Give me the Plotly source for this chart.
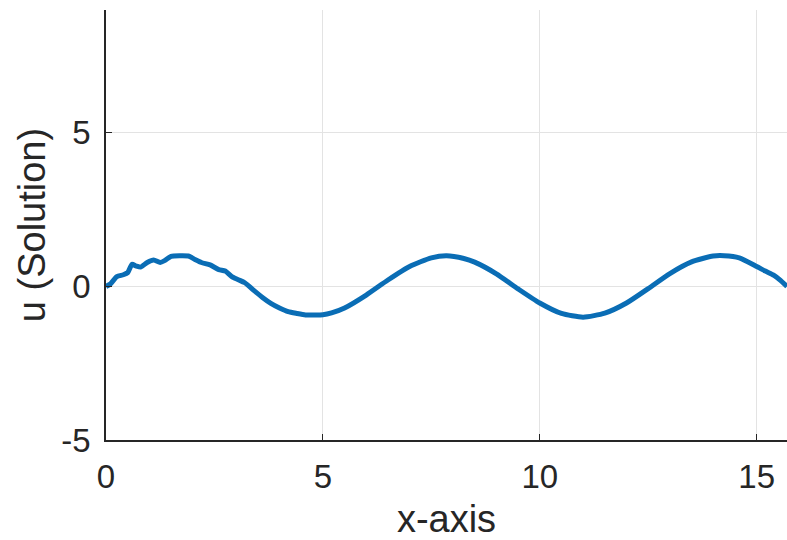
import plotly.graph_objects as go

# Sampled solution u(x) along the x-axis
x_vals = [0.0, 0.1, 0.25, 0.4, 0.5, 0.6, 0.7, 0.8, 0.95, 1.1, 1.25, 1.35, 1.5, 1.7,
          1.9, 2.05, 2.2, 2.4, 2.6, 2.75, 2.9, 3.05, 3.2, 3.4, 3.6, 3.8, 4.0, 4.2,
          4.4, 4.6, 4.8, 5.0, 5.2, 5.5, 6.0, 6.5, 7.0, 7.5, 7.85, 8.25, 8.5, 9.0,
          9.5, 10.0, 10.5, 11.0, 11.5, 12.0, 12.5, 13.0, 13.5, 14.0, 14.25, 14.6,
          15.0, 15.2, 15.4, 15.55, 15.7]
u_vals = [0.0, 0.08, 0.32, 0.38, 0.45, 0.72, 0.66, 0.63, 0.78, 0.86, 0.78, 0.84, 0.98, 1.0,
          0.99, 0.88, 0.78, 0.70, 0.55, 0.50, 0.32, 0.22, 0.12, -0.12, -0.35, -0.55, -0.70, -0.82,
          -0.88, -0.93, -0.93, -0.92, -0.86, -0.70, -0.28, 0.21, 0.65, 0.93, 1.0, 0.91, 0.79, 0.41,
          -0.08, -0.54, -0.88, -1.0, -0.87, -0.54, -0.07, 0.42, 0.80, 0.99, 1.0, 0.93,
          0.65, 0.50, 0.36, 0.20, 0.0]

x_ticks = [0, 5, 10, 15]
x_tick_text = ["0", "5", "10", "15"]
y_ticks = [-5, 0, 5]
y_tick_text = ["-5", "0", "5"]

font_family = "Liberation Sans, Arial, sans-serif"
axis_color = "#262626"
grid_color = "#e3e3e3"
tick_size = 33
title_size = 38

fig = go.Figure()
fig.add_trace(go.Scatter(
    x=x_vals, y=u_vals, mode="lines",
    line=dict(color="#0a6db5", width=5, shape="spline", smoothing=0.6),
    showlegend=False, cliponaxis=True,
))

fig.update_layout(
    width=787, height=540,
    margin=dict(l=106, r=0, t=10, b=100),
    paper_bgcolor="white", plot_bgcolor="white",
    font=dict(family=font_family, size=tick_size, color=axis_color),
)
fig.update_xaxes(
    range=[0, 15.7], tickvals=x_ticks, ticktext=x_tick_text,
    showgrid=True, gridcolor=grid_color, gridwidth=1,
    zeroline=False, showline=True, linecolor=axis_color, linewidth=1.5,
    ticks="inside", ticklen=6, tickcolor=axis_color, tickwidth=1,
    ticklabelstandoff=7,
    tickfont=dict(size=tick_size, color=axis_color),
    title=dict(text="x-axis", font=dict(size=title_size, color=axis_color), standoff=12),
)
fig.update_yaxes(
    range=[-5, 9.0], tickvals=y_ticks, ticktext=y_tick_text,
    showgrid=True, gridcolor=grid_color, gridwidth=1,
    zeroline=False, showline=True, linecolor=axis_color, linewidth=1.5,
    ticks="inside", ticklen=6, tickcolor=axis_color, tickwidth=1,
    ticklabelstandoff=7,
    tickfont=dict(size=tick_size, color=axis_color),
    title=dict(text="u (Solution)", font=dict(size=title_size, color=axis_color), standoff=4),
)

fig.write_html("out.html")
